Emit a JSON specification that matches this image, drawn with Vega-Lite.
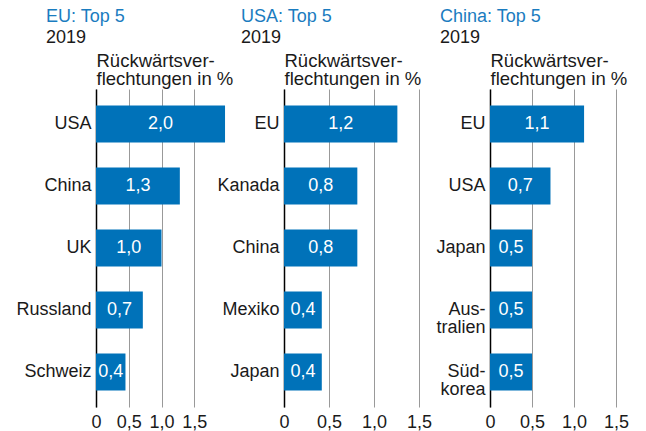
{
  "$schema": "https://vega.github.io/schema/vega-lite/v6.json",
  "padding": {"left": 15, "top": 8, "right": 5, "bottom": 2},
  "datasets": {
    "eu": [
      {"land": "USA", "value": 1.97, "label": "2,0"},
      {"land": "China", "value": 1.28, "label": "1,3"},
      {"land": "UK", "value": 1.0, "label": "1,0"},
      {"land": "Russland", "value": 0.715, "label": "0,7"},
      {"land": "Schweiz", "value": 0.45, "label": "0,4"}
    ],
    "usa": [
      {"land": "EU", "value": 1.26, "label": "1,2"},
      {"land": "Kanada", "value": 0.815, "label": "0,8"},
      {"land": "China", "value": 0.815, "label": "0,8"},
      {"land": "Mexiko", "value": 0.42, "label": "0,4"},
      {"land": "Japan", "value": 0.42, "label": "0,4"}
    ],
    "china": [
      {"land": "EU", "value": 1.12, "label": "1,1"},
      {"land": "USA", "value": 0.72, "label": "0,7"},
      {"land": "Japan", "value": 0.5, "label": "0,5"},
      {"land": "Aus-\ntralien", "value": 0.5, "label": "0,5"},
      {"land": "Süd-\nkorea", "value": 0.5, "label": "0,5"}
    ]
  },
  "spacing": 57,
  "bounds": "flush",
  "hconcat": [
    {
      "width": 131,
      "height": 318,
      "data": {"name": "eu"},
      "title": {"text": "EU: Top 5", "subtitle": "2019", "dx": -50},
      "layer": [
        {
          "mark": {"type": "bar", "color": "#0072b9"},
          "encoding": {
            "y": {"field": "land", "type": "nominal", "sort": null, "scale": {"paddingInner": 0.404, "paddingOuter": 0.266},
              "axis": {"title": null, "labelExpr": "split(datum.value, '\\n')", "labelFontSize": 18, "labelLineHeight": 18, "labelPadding": 5, "ticks": false, "domain": true, "domainColor": "#000000", "domainWidth": 1.5, "grid": false}},
            "x": {"field": "value", "type": "quantitative", "scale": {"domain": [0, 2], "nice": false},
              "axis": {"values": [0, 0.5, 1, 1.5], "labelExpr": "datum.value == 0 ? '0' : replace(format(datum.value, '.1f'), '.', ',')", "labelFontSize": 18, "labelPadding": 6, "labelFlush": false, "domain": false, "ticks": false, "grid": true, "gridColor": "#999999", "gridWidth": 1,
                "title": ["Rückwärtsver-", "flechtungen in %"], "titleX": 0, "titleY": -356, "titleAlign": "left", "titleBaseline": "top", "titleAnchor": "start", "titleLineHeight": 18.5, "titleFontSize": 18.5, "titleFontWeight": "normal"}}
          }
        },
        {
          "mark": {"type": "text", "color": "#ffffff", "fontSize": 18},
          "encoding": {
            "y": {"field": "land", "type": "nominal", "sort": null},
            "x": {"field": "value", "type": "quantitative", "scale": {"domain": [0, 4], "nice": false}, "axis": null},
            "text": {"field": "label"}
          }
        }
      ],
      "resolve": {"scale": {"x": "independent"}}
    },
    {
      "width": 149,
      "height": 318,
      "data": {"name": "usa"},
      "title": {"text": "USA: Top 5", "subtitle": "2019", "dx": -43},
      "layer": [
        {
          "mark": {"type": "bar", "color": "#0072b9"},
          "encoding": {
            "y": {"field": "land", "type": "nominal", "sort": null, "scale": {"paddingInner": 0.404, "paddingOuter": 0.266},
              "axis": {"title": null, "labelExpr": "split(datum.value, '\\n')", "labelFontSize": 18, "labelLineHeight": 18, "labelPadding": 5, "ticks": false, "domain": true, "domainColor": "#000000", "domainWidth": 1.5, "grid": false}},
            "x": {"field": "value", "type": "quantitative", "scale": {"domain": [0, 1.656], "nice": false},
              "axis": {"values": [0, 0.5, 1, 1.5], "labelExpr": "datum.value == 0 ? '0' : replace(format(datum.value, '.1f'), '.', ',')", "labelFontSize": 18, "labelPadding": 6, "labelFlush": false, "domain": false, "ticks": false, "grid": true, "gridColor": "#999999", "gridWidth": 1,
                "title": ["Rückwärtsver-", "flechtungen in %"], "titleX": 0, "titleY": -356, "titleAlign": "left", "titleBaseline": "top", "titleAnchor": "start", "titleLineHeight": 18.5, "titleFontSize": 18.5, "titleFontWeight": "normal"}}
          }
        },
        {
          "mark": {"type": "text", "color": "#ffffff", "fontSize": 18},
          "encoding": {
            "y": {"field": "land", "type": "nominal", "sort": null},
            "x": {"field": "value", "type": "quantitative", "scale": {"domain": [0, 3.312], "nice": false}, "axis": null},
            "text": {"field": "label"}
          }
        }
      ],
      "resolve": {"scale": {"x": "independent"}}
    },
    {
      "width": 126,
      "height": 318,
      "data": {"name": "china"},
      "title": {"text": "China: Top 5", "subtitle": "2019", "dx": -50},
      "layer": [
        {
          "mark": {"type": "bar", "color": "#0072b9"},
          "encoding": {
            "y": {"field": "land", "type": "nominal", "sort": null, "scale": {"paddingInner": 0.404, "paddingOuter": 0.266},
              "axis": {"title": null, "labelExpr": "split(datum.value, '\\n')", "labelFontSize": 18, "labelLineHeight": 18, "labelPadding": 5, "ticks": false, "domain": true, "domainColor": "#000000", "domainWidth": 1.5, "grid": false}},
            "x": {"field": "value", "type": "quantitative", "scale": {"domain": [0, 1.5], "nice": false},
              "axis": {"values": [0, 0.5, 1, 1.5], "labelExpr": "datum.value == 0 ? '0' : replace(format(datum.value, '.1f'), '.', ',')", "labelFontSize": 18, "labelPadding": 6, "labelFlush": false, "domain": false, "ticks": false, "grid": true, "gridColor": "#999999", "gridWidth": 1,
                "title": ["Rückwärtsver-", "flechtungen in %"], "titleX": 0, "titleY": -356, "titleAlign": "left", "titleBaseline": "top", "titleAnchor": "start", "titleLineHeight": 18.5, "titleFontSize": 18.5, "titleFontWeight": "normal"}}
          }
        },
        {
          "mark": {"type": "text", "color": "#ffffff", "fontSize": 18},
          "encoding": {
            "y": {"field": "land", "type": "nominal", "sort": null},
            "x": {"field": "value", "type": "quantitative", "scale": {"domain": [0, 3], "nice": false}, "axis": null},
            "text": {"field": "label"}
          }
        }
      ],
      "resolve": {"scale": {"x": "independent"}}
    }
  ],
  "config": {
    "font": "Liberation Sans",
    "view": {"stroke": null},
    "axis": {"labelColor": "#1a1a1a", "titleColor": "#1a1a1a", "labelFont": "Liberation Sans", "titleFont": "Liberation Sans"},
    "text": {"font": "Liberation Sans"},
    "title": {"anchor": "start", "frame": "group", "font": "Liberation Sans", "fontSize": 18, "fontWeight": "normal", "color": "#1a7cc0", "subtitleFont": "Liberation Sans", "subtitleFontSize": 18, "subtitleColor": "#1a1a1a", "subtitlePadding": 3, "offset": 4}
  }
}
